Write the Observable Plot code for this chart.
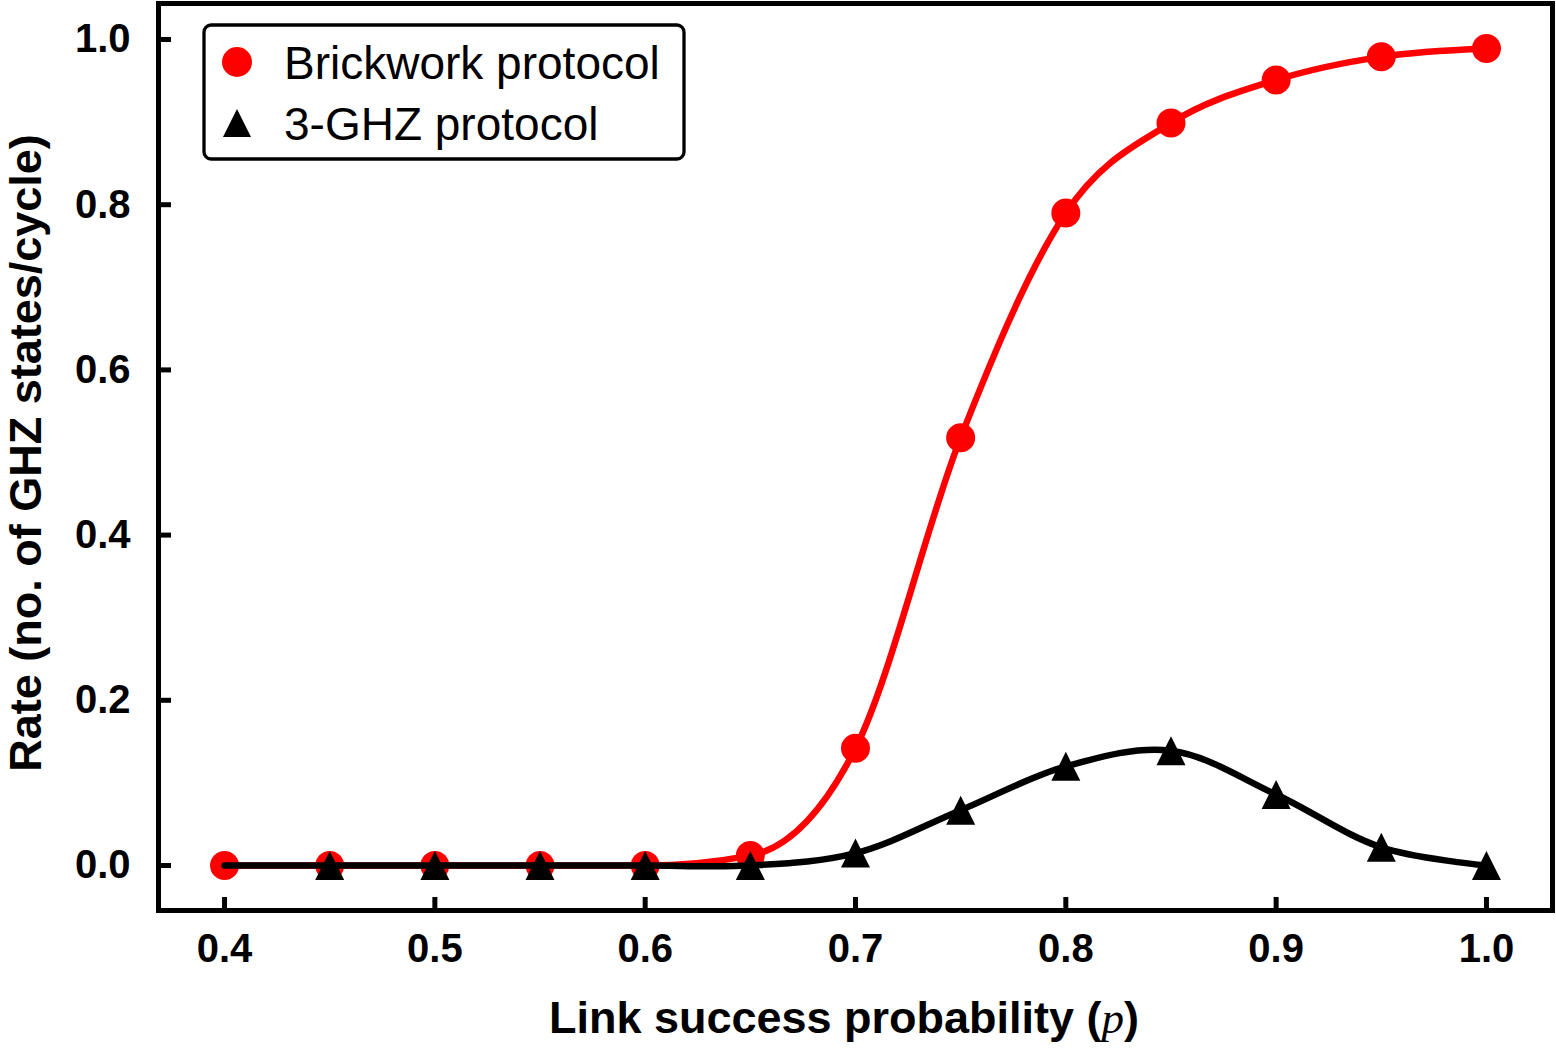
<!DOCTYPE html>
<html>
<head>
<meta charset="utf-8">
<script src="https://cdn.jsdelivr.net/npm/d3@7"></script>
<script src="https://cdn.jsdelivr.net/npm/@observablehq/plot@0.6"></script>
<style>
  html, body { margin: 0; padding: 0; background: #fff; }
  #chart svg { display: block; }
</style>
</head>
<body>
<div id="chart"></div>
<script>
// ---- data ----
const linkProbability = [0.40, 0.45, 0.50, 0.55, 0.60, 0.65, 0.70, 0.75, 0.80, 0.85, 0.90, 0.95, 1.00];
const brickworkRate   = [0, 0, 0, 0, 0, 0.012, 0.142, 0.518, 0.790, 0.899, 0.951, 0.979, 0.989];
const ghzRate         = [0, 0, 0, 0, 0, 0, 0.015, 0.067, 0.120, 0.139, 0.086, 0.022, 0];
const ghzMarkerStart  = 0.45; // GHZ markers drawn from p = 0.45 on
const xTicks = [0.4, 0.5, 0.6, 0.7, 0.8, 0.9, 1.0];
const yTicks = [0.0, 0.2, 0.4, 0.6, 0.8, 1.0];
const seriesNames = ["Brickwork protocol", "3-GHZ protocol"];
const xLabel = "Link success probability (";
const xLabelVar = "p";
const yLabel = "Rate (no. of GHZ states/cycle)";

const brick = linkProbability.map((p, i) => ({p, rate: brickworkRate[i]}));
const ghz = linkProbability.map((p, i) => ({p, rate: ghzRate[i]}));
const ghzMarkers = ghz.filter(d => d.p >= ghzMarkerStart - 1e-9);

// matplotlib-like "^" marker: width == height, bbox-centred
const triangleUp = {
  draw(context, size) {
    const a = Math.sqrt(size / Math.PI);
    context.moveTo(0, -a);
    context.lineTo(a, a);
    context.lineTo(-a, a);
    context.closePath();
  }
};

const FONT = "'Liberation Sans', Arial, Helvetica, sans-serif";
const RED = "#ff0000";

const svg = Plot.plot({
  width: 1556,
  height: 1050,
  marginLeft: 158,
  marginRight: 4,
  marginTop: 3,
  marginBottom: 140,
  x: {domain: [0.3686, 1.0314]},
  y: {domain: [-0.0545, 1.0436]},
  style: {fontFamily: FONT, background: "#fff", overflow: "visible"},
  marks: [
    Plot.line(brick, {x: "p", y: "rate", stroke: RED, strokeWidth: 6.5, curve: "monotone-x"}),
    Plot.dot(brick, {x: "p", y: "rate", r: 14.5, fill: RED, stroke: "none", symbol: "circle"}),
    Plot.line(ghz, {x: "p", y: "rate", stroke: "#000", strokeWidth: 6.5, curve: "catmull-rom"}),
    Plot.dot(ghzMarkers, {x: "p", y: "rate", r: 14.5, fill: "#000", stroke: "none", symbol: triangleUp}),
    // inward ticks
    Plot.axisX(xTicks, {anchor: "bottom", tickSize: -13, strokeWidth: 5, tickFormat: () => "", label: null}),
    Plot.axisY(yTicks, {anchor: "left", tickSize: -13, strokeWidth: 5, tickFormat: () => "", label: null}),
    // tick labels
    Plot.axisX(xTicks, {anchor: "bottom", tickSize: 0, tickPadding: 23, tickFormat: d3.format(".1f"),
      fontSize: 40, fontWeight: "bold", fontFamily: FONT, fill: "#000", label: null}),
    Plot.axisY(yTicks, {anchor: "left", tickSize: 0, tickPadding: 28, tickFormat: d3.format(".1f"),
      fontSize: 40, fontWeight: "bold", fontFamily: FONT, fill: "#000", label: null}),
    Plot.frame({stroke: "#000", strokeWidth: 5})
  ]
});

document.getElementById("chart").appendChild(svg);

const s = d3.select(svg);

// x-axis label with italic variable
const xl = s.append("text")
  .attr("x", 844).attr("y", 1033)
  .attr("text-anchor", "middle")
  .attr("font-family", FONT).attr("font-weight", "bold").attr("font-size", 45)
  .attr("fill", "#000");
xl.append("tspan").text(xLabel);
xl.append("tspan").attr("font-family", "'Liberation Serif', 'Times New Roman', serif")
  .attr("font-style", "italic").attr("font-weight", "normal").text(xLabelVar);
xl.append("tspan").text(")");

// y-axis label
s.append("text")
  .attr("transform", "translate(41,453) rotate(-90)")
  .attr("text-anchor", "middle")
  .attr("font-family", FONT).attr("font-weight", "bold").attr("font-size", 45)
  .attr("fill", "#000")
  .text(yLabel);

// legend
const lg = s.append("g");
lg.append("rect").attr("x", 204).attr("y", 25).attr("width", 480).attr("height", 134)
  .attr("rx", 7).attr("ry", 7).attr("fill", "#fff").attr("stroke", "#000").attr("stroke-width", 3.3);
lg.append("circle").attr("cx", 237).attr("cy", 62).attr("r", 15).attr("fill", RED);
lg.append("path").attr("d", "M237,109L251,137L223,137Z").attr("fill", "#000");
lg.append("text").attr("x", 284).attr("y", 79).attr("text-anchor", "start").attr("font-family", FONT).attr("font-size", 46)
  .attr("fill", "#000").text(seriesNames[0]);
lg.append("text").attr("x", 284).attr("y", 140).attr("text-anchor", "start").attr("font-family", FONT).attr("font-size", 46)
  .attr("fill", "#000").text(seriesNames[1]);
</script>
</body>
</html>
